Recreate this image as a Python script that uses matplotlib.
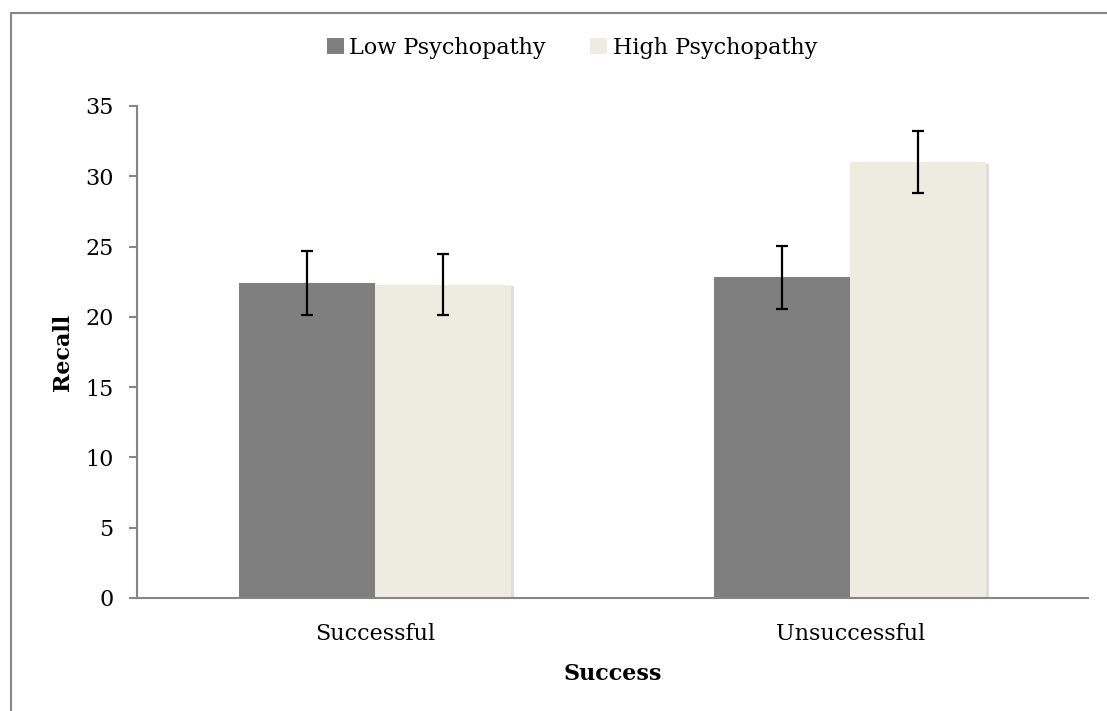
import matplotlib
matplotlib.use("Agg")
import matplotlib.pyplot as plt
import matplotlib.patheffects as pe
from matplotlib.patches import Rectangle, Patch
import numpy as np

categories = ["Successful", "Unsuccessful"]
series_names = ["Low Psychopathy", "High Psychopathy"]
low_values = [22.4, 22.8]
high_values = [22.3, 31.0]
low_err = [2.25, 2.25]
high_err = [2.2, 2.2]
colors = ["#7f7f7f", "#eeece1"]

plt.rcParams['font.family'] = ['DejaVu Serif']
FS = 16

fig = plt.figure(figsize=(11.07, 7.11), dpi=100)
# outer chart border (partly cut at right/bottom)
fig.patches.append(Rectangle((11/1107, -0.05), 1.2, (711-13)/711 + 0.05,
                             transform=fig.transFigure, fill=False,
                             edgecolor="#868686", linewidth=1.5))

ax = fig.add_axes([137/1107, (711-598)/711, (1088-137)/1107, (598-106)/711])

x = np.arange(len(categories))
w = 0.286
shadow = [pe.SimplePatchShadow(offset=(2, -1), shadow_rgbFace="#c8c8c8", alpha=0.6), pe.Normal()]
b1 = ax.bar(x - w/2, low_values, w, color=colors[0], zorder=2)
b2 = ax.bar(x + w/2, high_values, w, color=colors[1], zorder=2)
for b in list(b1) + list(b2):
    b.set_path_effects(shadow)
ax.errorbar(x - w/2, low_values, yerr=low_err, fmt="none", ecolor="black",
            elinewidth=1.6, capsize=4.5, capthick=1.6, zorder=3)
ax.errorbar(x + w/2, high_values, yerr=high_err, fmt="none", ecolor="black",
            elinewidth=1.6, capsize=4.5, capthick=1.6, zorder=3)

ax.set_xlim(-0.5, 1.5)
ax.set_ylim(0, 35)
ax.set_yticks(np.arange(0, 36, 5))
ax.set_xticks(x)
ax.set_xticklabels(categories)
for s in ["top", "right"]:
    ax.spines[s].set_visible(False)
for s in ["left", "bottom"]:
    ax.spines[s].set_color("#868686")
    ax.spines[s].set_linewidth(1.5)
ax.tick_params(axis="y", direction="out", length=6, width=1.5, color="#868686",
               labelsize=FS, pad=11)
ax.tick_params(axis="x", length=0, labelsize=FS, pad=18)
ax.set_ylabel("Recall", fontsize=FS, fontweight="bold", labelpad=8)
ax.set_xlabel("Success", fontsize=FS, fontweight="bold", labelpad=13)

handles = [Patch(facecolor=c, edgecolor="none") for c in colors]
fig.legend(handles, series_names, loc="center", bbox_to_anchor=(572/1107, 1 - 48/711),
           ncol=2, frameon=False, fontsize=FS, handlelength=0.75, handleheight=0.75,
           handletextpad=0.25, columnspacing=2.0)

fig.savefig("out.png", dpi=100)
